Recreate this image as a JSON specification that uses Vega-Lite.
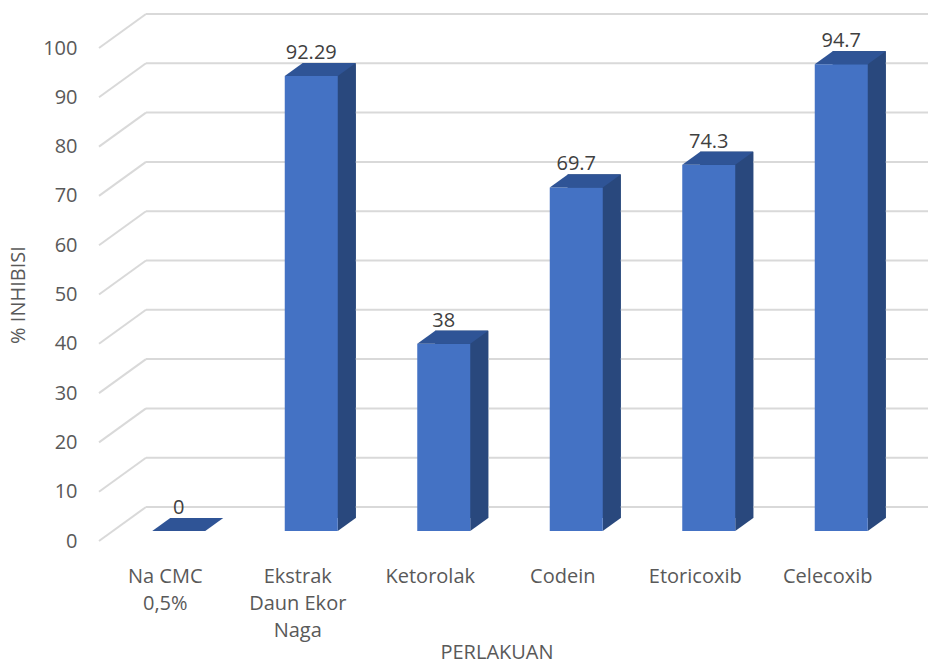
{
  "$schema": "https://vega.github.io/schema/vega-lite/v6.json",
  "width": 795,
  "height": 493,
  "autosize": {"type": "none"},
  "padding": {"left": 99, "top": 48, "right": 34, "bottom": 125},
  "background": "white",
  "config": {"view": {"stroke": null}, "font": "Open Sans"},
  "datasets": {
    "bars": [
      {"perlakuan": "Na CMC 0,5%", "inhibisi": 0},
      {"perlakuan": "Ekstrak Daun  Ekor Naga", "inhibisi": 92.29},
      {"perlakuan": "Ketorolak", "inhibisi": 38},
      {"perlakuan": "Codein", "inhibisi": 69.7},
      {"perlakuan": "Etoricoxib", "inhibisi": 74.3},
      {"perlakuan": "Celecoxib", "inhibisi": 94.7}
    ],
    "grid": [
      {"v": 0}, {"v": 10}, {"v": 20}, {"v": 30}, {"v": 40}, {"v": 50},
      {"v": 60}, {"v": 70}, {"v": 80}, {"v": 90}, {"v": 100}
    ]
  },
  "layer": [
    {
      "data": {"name": "bars"},
      "mark": {"type": "bar", "color": "#29487D", "width": {"band": 0.4}, "xOffset": 31.5, "yOffset": -23, "y2Offset": -23},
      "encoding": {
        "x": {
          "field": "perlakuan", "type": "nominal", "title": "PERLAKUAN",
          "scale": {"type": "band", "paddingInner": 0, "paddingOuter": 0,
            "domain": ["Na CMC 0,5%", "Ekstrak Daun  Ekor Naga", "Ketorolak", "Codein", "Etoricoxib", "Celecoxib"]},
          "axis": {
            "domain": false, "ticks": false, "labelAngle": 0,
            "labelFontSize": 20, "labelColor": "#595959", "labelPadding": 25, "labelLineHeight": 27,
            "labelExpr": "datum.label == 'Na CMC 0,5%' ? ['Na CMC', '0,5%'] : datum.label == 'Ekstrak Daun  Ekor Naga' ? ['Ekstrak', 'Daun  Ekor', 'Naga'] : datum.label",
            "titleFontSize": 20, "titleFontWeight": "normal", "titleColor": "#595959", "titlePadding": 2
          }
        },
        "y": {
          "field": "inhibisi", "type": "quantitative", "title": "% INHIBISI",
          "scale": {"domain": [0, 100], "nice": false, "zero": true},
          "axis": {
            "domain": false, "ticks": false, "grid": false, "values": [0, 10, 20, 30, 40, 50, 60, 70, 80, 90, 100],
            "labelFontSize": 20, "labelColor": "#595959", "labelPadding": 22,
            "titleFontSize": 20, "titleFontWeight": "normal", "titleColor": "#595959", "titlePadding": 14
          }
        },
        "y2": {"datum": 0}
      }
    },
    {
      "data": {"name": "grid"},
      "mark": {"type": "rule", "color": "#d9d9d9", "strokeWidth": 2, "x2Offset": 47, "y2Offset": -34},
      "encoding": {
        "x": {"datum": "Na CMC 0,5%", "type": "nominal", "bandPosition": 0, "title": "PERLAKUAN"},
        "x2": {"datum": "Na CMC 0,5%", "bandPosition": 0},
        "y": {"field": "v", "type": "quantitative", "title": "% INHIBISI"},
        "y2": {"field": "v"}
      }
    },
    {
      "data": {"name": "grid"},
      "mark": {"type": "rule", "color": "#d9d9d9", "strokeWidth": 2, "xOffset": 47, "x2Offset": 34, "yOffset": -34},
      "encoding": {
        "x": {"datum": "Na CMC 0,5%", "type": "nominal", "bandPosition": 0, "title": "PERLAKUAN"},
        "x2": {"datum": "Celecoxib", "bandPosition": 1},
        "y": {"field": "v", "type": "quantitative", "title": "% INHIBISI"}
      }
    },
    {
      "data": {"name": "bars"},
      "mark": {"type": "bar", "color": "#29487D", "width": {"band": 0.4}, "xOffset": 31.5, "yOffset": -23, "y2Offset": -23},
      "encoding": {
        "x": {"field": "perlakuan", "type": "nominal", "title": "PERLAKUAN"},
        "y": {"field": "inhibisi", "type": "quantitative", "title": "% INHIBISI"},
        "y2": {"datum": 0}
      }
    },
    {
      "data": {"name": "bars"},
      "transform": [{"filter": "datum.inhibisi > 0"}],
      "mark": {"type": "point", "filled": true, "opacity": 1, "strokeWidth": 0, "color": "#29487D",
        "shape": "M -1 -0.722 L 1 -0.722 L -1 0.722 Z", "size": 324, "xOffset": 49, "yOffset": -16.5},
      "encoding": {
        "x": {"field": "perlakuan", "type": "nominal", "title": "PERLAKUAN"},
        "y": {"datum": 0, "type": "quantitative", "title": "% INHIBISI"}
      }
    },
    {
      "data": {"name": "bars"},
      "mark": {"type": "bar", "color": "#4472C4", "width": {"band": 0.4}, "xOffset": 13.5, "yOffset": -10, "y2Offset": -10},
      "encoding": {
        "x": {"field": "perlakuan", "type": "nominal", "title": "PERLAKUAN"},
        "y": {"field": "inhibisi", "type": "quantitative", "title": "% INHIBISI"},
        "y2": {"datum": 0}
      }
    },
    {
      "data": {"name": "bars"},
      "mark": {"type": "point", "filled": true, "opacity": 1, "strokeWidth": 0, "color": "#2F5496",
        "shape": "M -1 0.183 L -0.493 -0.183 L 1 -0.183 L 0.493 0.183 Z", "size": 5041, "xOffset": 22.5, "yOffset": -16.5},
      "encoding": {
        "x": {"field": "perlakuan", "type": "nominal", "title": "PERLAKUAN"},
        "y": {"field": "inhibisi", "type": "quantitative", "title": "% INHIBISI"}
      }
    },
    {
      "data": {"name": "bars"},
      "mark": {"type": "text", "fontSize": 20, "color": "#404040", "align": "center", "baseline": "alphabetic", "xOffset": 13.5, "yOffset": -27},
      "encoding": {
        "x": {"field": "perlakuan", "type": "nominal", "title": "PERLAKUAN"},
        "y": {"field": "inhibisi", "type": "quantitative", "title": "% INHIBISI"},
        "text": {"field": "inhibisi", "type": "nominal"}
      }
    }
  ]
}
